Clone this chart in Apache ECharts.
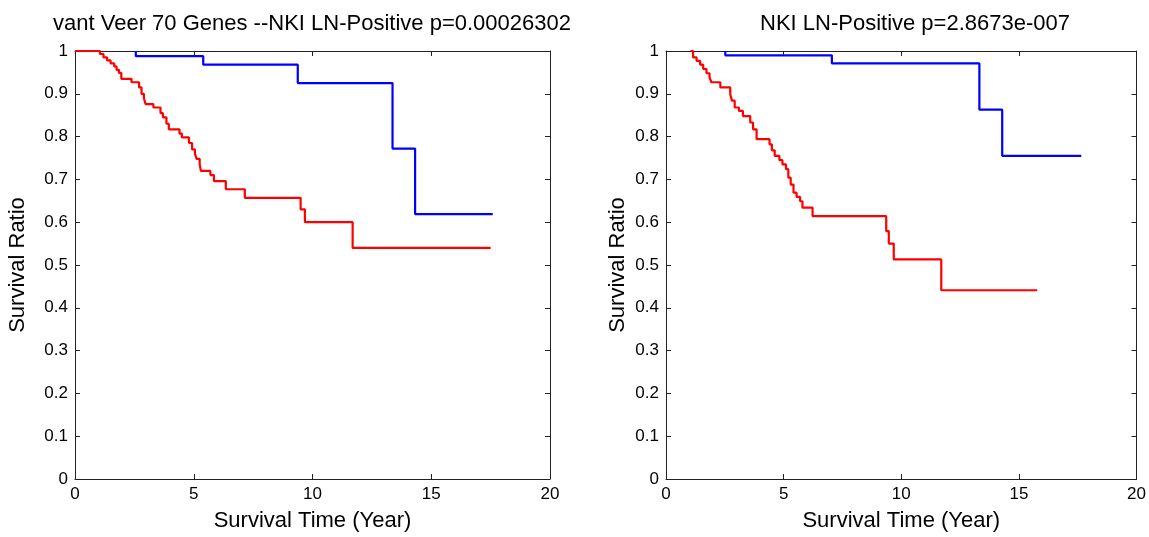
<!DOCTYPE html>
<html>
<head>
<meta charset="utf-8">
<title>Survival curves</title>
<script src="https://cdn.jsdelivr.net/npm/echarts@6/dist/echarts.min.js"></script>
<style>
html, body { margin: 0; padding: 0; background: #fff; }
#chart { width: 1149px; height: 537px; }
</style>
</head>
<body>
<div id="chart"></div>
<script>
// Kaplan-Meier style step curves
var leftTitle = 'vant Veer 70 Genes --NKI LN-Positive p=0.00026302';
var rightTitle = 'NKI LN-Positive p=2.8673e-007';

// left panel, red (poor prognosis group)
var leftRedTime = [0, 1.05, 1.2, 1.35, 1.5, 1.65, 1.75, 1.85, 1.95, 2.38, 2.7, 2.8, 2.9, 2.97, 3.3, 3.6, 3.7, 3.85, 3.95, 4.4, 4.5, 4.8, 4.93, 5.05, 5.12, 5.25, 5.3, 5.7, 5.85, 6.35, 7.15, 9.5, 9.68, 11.69, 17.5];
var leftRedSurv = [1, 0.993, 0.985, 0.978, 0.971, 0.964, 0.956, 0.949, 0.935, 0.927, 0.915, 0.9, 0.89, 0.876, 0.868, 0.855, 0.845, 0.83, 0.817, 0.807, 0.798, 0.785, 0.77, 0.76, 0.748, 0.735, 0.72, 0.71, 0.696, 0.677, 0.657, 0.63, 0.6, 0.54, 0.54];
// left panel, blue (good prognosis group)
var leftBlueTime = [2.56, 2.56, 5.4, 9.38, 13.37, 14.32, 17.59];
var leftBlueSurv = [1, 0.988, 0.968, 0.925, 0.772, 0.619, 0.619];

// right panel, red
var rightRedTime = [1.04, 1.15, 1.3, 1.45, 1.58, 1.72, 1.85, 1.93, 2.31, 2.73, 2.8, 2.92, 3.1, 3.27, 3.58, 3.7, 3.85, 4.4, 4.5, 4.62, 4.82, 4.95, 5.1, 5.2, 5.3, 5.42, 5.55, 5.7, 5.8, 6.23, 9.36, 9.47, 9.68, 11.7, 15.78];
var rightRedSurv = [1, 0.985, 0.977, 0.968, 0.958, 0.948, 0.938, 0.927, 0.915, 0.899, 0.884, 0.868, 0.86, 0.848, 0.833, 0.817, 0.794, 0.782, 0.768, 0.755, 0.745, 0.735, 0.724, 0.704, 0.688, 0.669, 0.659, 0.649, 0.634, 0.614, 0.579, 0.55, 0.513, 0.441, 0.441];
// right panel, blue
var rightBlueTime = [2.52, 2.52, 7.05, 13.32, 14.29, 17.65];
var rightBlueSurv = [1, 0.99, 0.971, 0.863, 0.755, 0.755];

var xMin = 0, xMax = 20, xStep = 5;
var yMin = 0, yMax = 1, yStep = 0.1;
var xName = 'Survival Time (Year)';
var yName = 'Survival Ratio';

var font = 'Liberation Sans, Arial, Helvetica, sans-serif';

function pairs(t, s) {
    var out = [];
    for (var i = 0; i < t.length; i++) out.push([t[i], s[i]]);
    return out;
}

function xAx(grid, pos, withText) {
    return {
        type: 'value', gridIndex: grid, position: pos,
        min: xMin, max: xMax, interval: xStep,
        name: withText ? xName : '', nameLocation: 'middle', nameGap: 31,
        nameTextStyle: {color: '#000', fontSize: 22, fontFamily: font},
        axisLine: {onZero: false, lineStyle: {color: '#222', width: 1}},
        axisTick: {inside: true, length: 5, lineStyle: {color: '#222'}},
        axisLabel: {show: withText, color: '#000', fontSize: 17, fontFamily: font, margin: 7},
        splitLine: {show: false}
    };
}

function yAx(grid, pos, withText, gap) {
    return {
        type: 'value', gridIndex: grid, position: pos,
        min: yMin, max: yMax, interval: yStep,
        name: withText ? yName : '', nameLocation: 'middle', nameGap: gap,
        nameTextStyle: {color: '#000', fontSize: 22, fontFamily: font},
        axisLine: {onZero: false, lineStyle: {color: '#222', width: 1}},
        axisTick: {inside: true, length: 5, lineStyle: {color: '#222'}},
        axisLabel: {show: withText, color: '#000', fontSize: 17, fontFamily: font, margin: 7},
        splitLine: {show: false}
    };
}

function curve(xi, yi, color, data) {
    return {
        type: 'line', step: 'end', xAxisIndex: xi, yAxisIndex: yi,
        showSymbol: false, symbol: 'none',
        lineStyle: {color: color, width: 2.2},
        data: data
    };
}

var chart = echarts.init(document.getElementById('chart'));
var option = {
    backgroundColor: '#fff',
    animation: false,
    title: [
        {text: leftTitle, left: 307, top: 8, textAlign: 'center',
         textStyle: {color: '#000', fontSize: 22, fontWeight: 'normal', fontFamily: font}},
        {text: rightTitle, left: 910, top: 8, textAlign: 'center',
         textStyle: {color: '#000', fontSize: 22, fontWeight: 'normal', fontFamily: font}}
    ],
    grid: [
        {left: 75, top: 51, width: 475, height: 428},
        {left: 666, top: 51, width: 473, height: 428}
    ],
    xAxis: [
        xAx(0, 'bottom', true), xAx(0, 'top', false),
        xAx(1, 'bottom', true), xAx(1, 'top', false)
    ],
    yAxis: [
        yAx(0, 'left', true, 46), yAx(0, 'right', false, 0),
        yAx(1, 'left', true, 37), yAx(1, 'right', false, 0)
    ],
    series: [
        curve(0, 0, '#0000ff', pairs(leftBlueTime, leftBlueSurv)),
        curve(0, 0, '#ff0000', pairs(leftRedTime, leftRedSurv)),
        curve(2, 2, '#0000ff', pairs(rightBlueTime, rightBlueSurv)),
        curve(2, 2, '#ff0000', pairs(rightRedTime, rightRedSurv))
    ]
};
chart.setOption(option);
</script>
</body>
</html>
